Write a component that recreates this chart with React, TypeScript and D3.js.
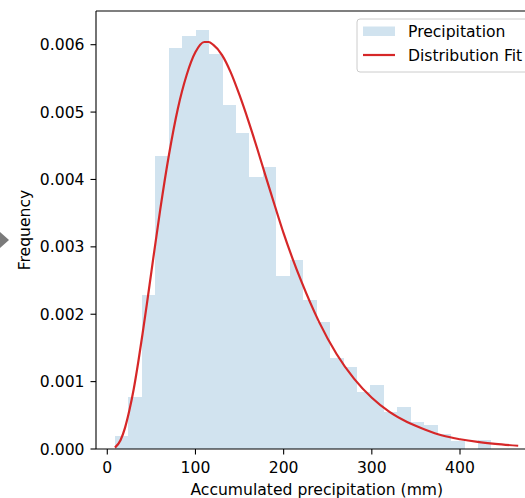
import React from 'react'
import * as d3 from 'd3'

// histogram: equal width bins, density values
const binStart = 8.7
const binWidth = 15.25
const density = [
  0.000193, 0.000768, 0.00229, 0.004343, 0.005944, 0.006127, 0.006211, 0.005864,
  0.0051, 0.00469, 0.00403, 0.00419, 0.00256, 0.00281, 0.002204, 0.001882,
  0.001347, 0.001223, 0.000852, 0.000951, 0.000554, 0.000629, 0.000406, 0.000357,
  0.000223, 0.000123, 0, 0.000134, 0, 0,
]

// fitted distribution
const fitX = [8.7, 15, 20, 25, 30, 35, 40, 45, 50, 60, 70, 80, 90, 100, 110, 115, 120, 130, 140,
  150, 160, 170, 180, 190, 200, 210, 220, 240, 260, 280, 300, 320, 340, 360, 380, 400, 420, 440, 466]
const fitY = [0.00002, 0.00013, 0.00031, 0.00057, 0.00089, 0.00128, 0.00171, 0.00216, 0.00263,
  0.00355, 0.00437, 0.00505, 0.00555, 0.00589, 0.00604, 0.00604, 0.006, 0.00585, 0.00559,
  0.00525, 0.00487, 0.00446, 0.00403, 0.00361, 0.0032, 0.00283, 0.00249, 0.00189, 0.00141,
  0.00104, 0.00076, 0.00055, 0.0004, 0.00029, 0.0002, 0.000145, 0.000105, 0.000076, 0.000048]

const xTicks = [0, 100, 200, 300, 400]
const yTicks = [0, 0.001, 0.002, 0.003, 0.004, 0.005, 0.006]
const legendLabels = ['Precipitation', 'Distribution Fit']

const W = 525
const H = 498
const font = 'DejaVu Sans, sans-serif'
const fs = 15.6

const App = () => {
  const left = 96
  const top = 11
  const bottom = 449
  const right = 537.6

  const x = d3.scaleLinear().domain([-12.8, 488]).range([left, right])
  const y = d3.scaleLinear().domain([0, 0.0065]).range([bottom, top])

  const bins = density.map((d, i) => ({ x0: binStart + i * binWidth, x1: binStart + (i + 1) * binWidth, d }))

  const line = d3.line<number>()
    .x((_, i) => x(fitX[i]))
    .y(d => y(d))
    .curve(d3.curveMonotoneX)

  const fmt = d3.format('.3f')

  return (
    <svg width={W} height={H} style={{ position: 'absolute', left: 0, top: 0, background: '#fff' }}>
      <polygon points="0,232 9,240 0,248" fill="#7a7a7a" />

      {bins.filter(b => b.d > 0).map((b, i) => (
        <rect key={i} x={x(b.x0)} y={y(b.d)} width={x(b.x1) - x(b.x0)} height={y(0) - y(b.d)}
          fill="#d1e3ef" shapeRendering="crispEdges" />
      ))}

      <path d={line(fitY) || ''} fill="none" stroke="#d62728" strokeWidth={2.2} />

      {/* spines */}
      <line x1={left} x2={left} y1={top} y2={bottom} stroke="#000" strokeWidth={1.1} />
      <line x1={left} x2={right} y1={bottom} y2={bottom} stroke="#000" strokeWidth={1.1} />
      <line x1={left} x2={right} y1={top} y2={top} stroke="#000" strokeWidth={1.1} />

      {yTicks.map(t => (
        <g key={t}>
          <line x1={left - 5.5} x2={left} y1={y(t)} y2={y(t)} stroke="#000" strokeWidth={1.1} />
          <text x={left - 11.5} y={y(t)} dy="0.36em" textAnchor="end" fontFamily={font} fontSize={fs} fill="#000">{fmt(t)}</text>
        </g>
      ))}
      {xTicks.map(t => (
        <g key={t}>
          <line x1={x(t)} x2={x(t)} y1={bottom} y2={bottom + 5.5} stroke="#000" strokeWidth={1.1} />
          <text x={x(t)} y={472.5} textAnchor="middle" fontFamily={font} fontSize={fs} fill="#000">{t}</text>
        </g>
      ))}

      <text x={(left + right) / 2} y={494.5} textAnchor="middle" fontFamily={font} fontSize={fs}>Accumulated precipitation (mm)</text>
      <text transform={`translate(30,${(top + bottom) / 2}) rotate(-90)`} textAnchor="middle" fontFamily={font} fontSize={fs}>Frequency</text>

      {/* legend */}
      <rect x={357} y={19} width={173} height={53} rx={3} fill="#fff" fillOpacity={0.8} stroke="#cccccc" strokeWidth={1} />
      <rect x={363} y={26.5} width={32} height={9.5} fill="#d1e3ef" />
      <text x={408} y={36.7} fontFamily={font} fontSize={fs}>{legendLabels[0]}</text>
      <line x1={363} x2={395} y1={55} y2={55} stroke="#d62728" strokeWidth={2.2} />
      <text x={408} y={60.7} fontFamily={font} fontSize={fs}>{legendLabels[1]}</text>
    </svg>
  )
}

export default App
